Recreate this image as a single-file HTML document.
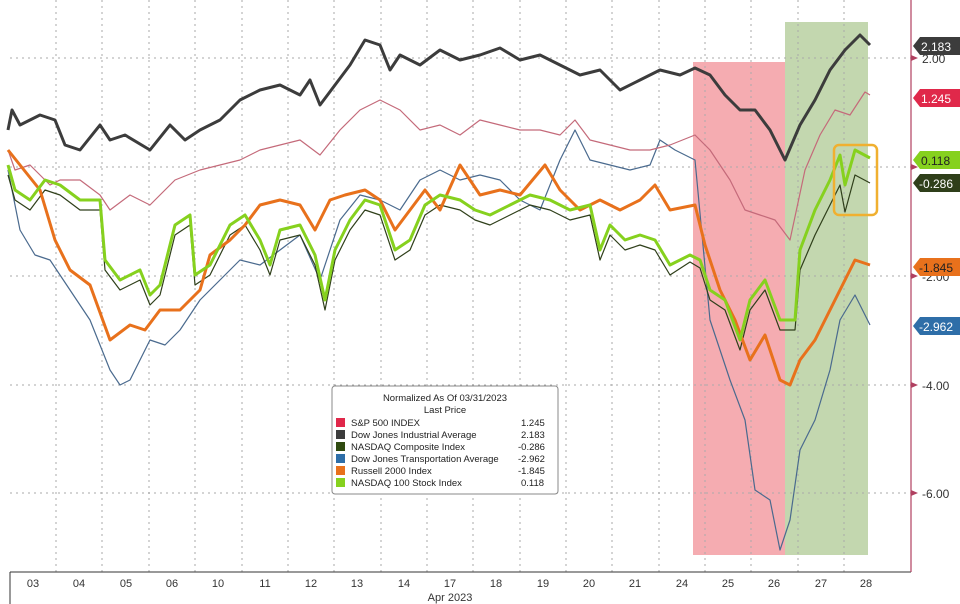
<!DOCTYPE html>
<html><head><meta charset="utf-8"><style>
body{margin:0;background:#fff;}
svg{display:block;font-family:"Liberation Sans",sans-serif;}
</style></head><body>
<svg width="960" height="604" viewBox="0 0 960 604">
<rect width="960" height="604" fill="#fff"/>
<rect x="693" y="62" width="92" height="493" fill="#f4a3a8" opacity="0.9"/>
<rect x="785" y="22" width="83" height="533" fill="#bcd3a6" opacity="0.9"/>
<g stroke="#aaa" stroke-dasharray="2,4" stroke-width="1">
<line x1="10" y1="58" x2="911" y2="58"/><line x1="10" y1="167" x2="911" y2="167"/>
<line x1="10" y1="276" x2="911" y2="276"/><line x1="10" y1="385" x2="911" y2="385"/>
<line x1="10" y1="493" x2="911" y2="493"/>
<line x1="56" y1="0" x2="56" y2="572"/><line x1="102" y1="0" x2="102" y2="572"/><line x1="149" y1="0" x2="149" y2="572"/><line x1="195" y1="0" x2="195" y2="572"/><line x1="242" y1="0" x2="242" y2="572"/><line x1="288" y1="0" x2="288" y2="572"/><line x1="334" y1="0" x2="334" y2="572"/><line x1="381" y1="0" x2="381" y2="572"/><line x1="427" y1="0" x2="427" y2="572"/><line x1="473" y1="0" x2="473" y2="572"/><line x1="520" y1="0" x2="520" y2="572"/><line x1="566" y1="0" x2="566" y2="572"/><line x1="612" y1="0" x2="612" y2="572"/><line x1="659" y1="0" x2="659" y2="572"/><line x1="705" y1="0" x2="705" y2="572"/><line x1="751" y1="0" x2="751" y2="572"/><line x1="798" y1="0" x2="798" y2="572"/><line x1="844" y1="0" x2="844" y2="572"/>
</g>
<g fill="none" stroke-linejoin="round">
<polyline stroke="#4a6a8e" stroke-width="1.2" points="8,170 20,230 35,255 50,260 70,290 90,320 110,370 120,385 130,380 150,340 165,345 180,330 200,300 220,280 240,260 260,265 280,250 300,235 320,280 340,220 360,195 380,200 400,210 420,180 440,170 460,180 480,175 500,180 520,200 540,210 560,160 575,130 590,160 610,165 630,170 650,165 660,140 675,150 695,160 710,320 730,380 745,420 755,490 770,500 780,550 790,520 800,450 815,420 830,370 840,320 855,295 870,325"/>
<polyline stroke="#c46a7a" stroke-width="1.2" points="8,150 15,170 30,165 50,185 60,180 80,180 100,195 110,210 130,195 150,205 175,180 200,170 220,165 240,160 260,150 280,145 300,140 320,155 340,130 360,110 380,100 400,110 420,130 440,125 460,135 480,120 500,125 520,130 540,130 560,135 575,120 590,140 610,145 630,150 650,150 670,145 695,135 710,150 730,180 745,210 760,215 775,220 790,240 805,170 820,135 835,110 850,115 865,92 870,95"/>
<polyline stroke="#2f3f1a" stroke-width="1.2" points="8,175 15,200 30,210 45,190 60,195 80,210 100,210 105,270 120,290 140,280 150,305 160,295 175,235 190,225 195,285 210,275 230,235 245,225 260,250 270,275 280,240 300,235 315,265 325,310 335,260 350,230 365,210 380,215 395,260 410,250 425,215 440,205 460,210 475,220 490,225 510,215 530,205 550,210 570,220 590,215 600,260 610,235 625,250 640,245 655,250 670,275 690,262 700,268 710,300 725,310 740,350 750,310 765,290 780,330 795,330 800,270 815,235 830,205 840,185 845,212 855,175 870,183"/>
<polyline stroke="#e8711c" stroke-width="3" points="8,150 20,165 40,190 55,240 70,270 90,285 110,340 130,325 145,330 160,310 180,310 200,290 210,255 230,240 245,225 260,205 280,200 300,205 315,230 330,200 345,195 365,190 380,200 395,230 410,210 425,190 440,210 460,165 480,195 500,190 520,195 545,165 560,190 580,210 600,200 620,210 640,200 655,185 670,210 695,205 705,245 720,290 735,320 750,360 765,335 780,380 790,385 800,360 815,340 830,310 845,280 855,260 870,265"/>
<polyline stroke="#86d11e" stroke-width="3" points="8,165 15,190 30,200 45,180 60,185 80,200 100,200 105,260 120,280 140,270 150,295 160,285 175,225 190,215 195,275 210,265 230,225 245,215 260,240 270,265 280,230 300,225 315,255 325,300 335,250 350,220 365,200 380,205 395,250 410,240 425,205 440,195 460,200 475,210 490,215 510,205 530,195 550,200 570,210 590,205 600,250 610,225 625,240 640,235 655,240 670,265 690,255 700,260 710,290 725,300 740,340 750,300 765,280 780,320 795,320 800,250 815,210 830,180 840,155 845,185 855,150 870,158"/>
<polyline stroke="#3c3c3c" stroke-width="3" points="8,130 12,110 20,125 40,115 55,120 65,145 80,150 100,125 110,140 125,135 150,150 170,125 185,140 200,130 220,120 240,100 260,90 280,85 300,95 310,80 320,105 335,85 350,65 365,40 380,45 390,70 400,55 420,65 440,50 460,60 480,55 500,48 520,60 540,55 560,65 580,75 600,70 620,90 640,80 660,70 680,75 695,68 710,75 725,95 740,110 755,110 770,130 785,160 800,125 815,100 830,70 845,50 860,35 870,45"/>
</g>
<rect x="834" y="145" width="43" height="70" rx="5" fill="none" stroke="#f0b030" stroke-width="2.5"/>
<line x1="10" y1="572" x2="911" y2="572" stroke="#333"/>
<line x1="10" y1="572" x2="10" y2="604" stroke="#333"/>
<line x1="911" y1="0" x2="911" y2="572" stroke="#b04060" stroke-width="1.2"/>
<g fill="#b04060"><path d="M911,55 l7,3 l-7,3z"/><path d="M911,273 l7,3 l-7,3z"/><path d="M911,382 l7,3 l-7,3z"/><path d="M911,490 l7,3 l-7,3z"/><path d="M911,164 l7,3 l-7,3z"/></g>
<g font-size="12" fill="#333">
<text x="922" y="63">2.00</text><text x="922" y="281">-2.00</text><text x="922" y="390">-4.00</text><text x="922" y="498">-6.00</text>
</g>
<g font-size="12" fill="#fff">
<path d="M913,46 l7,-9 h40 v18 h-40z" fill="#3c3c3c"/><text x="921" y="51">2.183</text>
<path d="M913,98 l7,-9 h40 v18 h-40z" fill="#e0284a"/><text x="921" y="103">1.245</text>
<path d="M913,160 l7,-9 h40 v18 h-40z" fill="#86d11e"/><text x="921" y="165" fill="#222">0.118</text>
<path d="M913,183 l7,-9 h40 v18 h-40z" fill="#2f3f1a"/><text x="919" y="188">-0.286</text>
<path d="M913,267 l7,-9 h40 v18 h-40z" fill="#e8711c"/><text x="919" y="272" fill="#222">-1.845</text>
<path d="M913,326 l7,-9 h40 v18 h-40z" fill="#2e6ea8"/><text x="919" y="331">-2.962</text>
</g>
<g font-size="11" fill="#333" text-anchor="middle">
<text x="33" y="587">03</text><text x="79" y="587">04</text><text x="126" y="587">05</text><text x="172" y="587">06</text><text x="218" y="587">10</text><text x="265" y="587">11</text><text x="311" y="587">12</text><text x="357" y="587">13</text><text x="404" y="587">14</text><text x="450" y="587">17</text><text x="496" y="587">18</text><text x="543" y="587">19</text><text x="589" y="587">20</text><text x="635" y="587">21</text><text x="682" y="587">24</text><text x="728" y="587">25</text><text x="774" y="587">26</text><text x="821" y="587">27</text><text x="866" y="587">28</text>
<text x="450" y="601">Apr 2023</text>
</g>
<rect x="332" y="386" width="226" height="108" rx="3" fill="#fff" stroke="#888"/>
<g font-size="9.5" fill="#222">
<text x="445" y="401" text-anchor="middle">Normalized As Of 03/31/2023</text>
<text x="445" y="413" text-anchor="middle">Last Price</text>
<rect x="336" y="418" width="9" height="9" fill="#e0284a"/><text x="351" y="426">S&amp;P 500 INDEX</text><text x="521" y="426">1.245</text>
<rect x="336" y="430" width="9" height="9" fill="#3c3c3c"/><text x="351" y="438">Dow Jones Industrial Average</text><text x="521" y="438">2.183</text>
<rect x="336" y="442" width="9" height="9" fill="#2f4a10"/><text x="351" y="450">NASDAQ Composite Index</text><text x="518" y="450">-0.286</text>
<rect x="336" y="454" width="9" height="9" fill="#2e6ea8"/><text x="351" y="462">Dow Jones Transportation Average</text><text x="518" y="462">-2.962</text>
<rect x="336" y="466" width="9" height="9" fill="#e8711c"/><text x="351" y="474">Russell 2000 Index</text><text x="518" y="474">-1.845</text>
<rect x="336" y="478" width="9" height="9" fill="#86d11e"/><text x="351" y="486">NASDAQ 100 Stock Index</text><text x="521" y="486">0.118</text>
</g>
</svg>
</body></html>
